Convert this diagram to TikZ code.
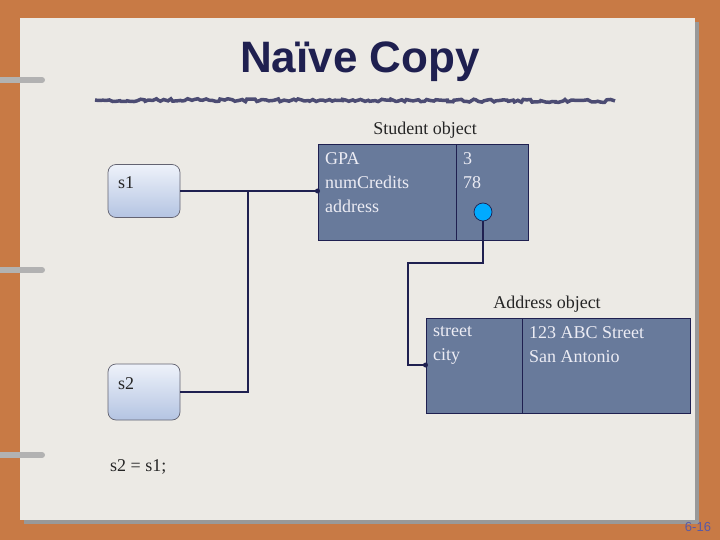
\documentclass[tikz,border=0pt]{standalone}
\usepackage{fontspec}
\setmainfont{Liberation Serif}
\newfontfamily\arialf{Liberation Sans}
\usetikzlibrary{decorations.pathmorphing}
\definecolor{wood}{HTML}{C87A45}
\definecolor{paper}{HTML}{ECEAE5}
\definecolor{navy}{HTML}{1F2050}
\definecolor{boxfill}{HTML}{687A9B}
\definecolor{boxtext}{HTML}{ECECF4}
\definecolor{ptr}{HTML}{00AAFF}
\definecolor{vtop}{HTML}{EEF2FA}
\definecolor{vbot}{HTML}{B4C4E2}
\tikzset{
  objbox/.style={draw=navy, fill=boxfill, line width=1pt},
  varbox/.style={draw=gray!70!navy, rounded corners=8pt, top color=vtop, bottom color=vbot, line width=0.7pt},
  conn/.style={draw=navy, line width=2.4pt},
  btxt/.style={text=boxtext, font=\fontsize{18}{24}\selectfont, align=left, anchor=north west, inner sep=0pt},
  lbl/.style={text=black!85, font=\fontsize{18}{20}\selectfont, inner sep=0pt},
  ring/.style={line width=6pt, gray!60, line cap=round}
}
\begin{document}
\begin{tikzpicture}[x=1pt,y=-1pt]
\useasboundingbox (0,0) rectangle (720,540);
\fill[wood] (0,0) rectangle (720,540);
\fill[black!40] (24,22) rectangle (699,524);
\fill[paper] (20,18) rectangle (695,520);
% rings
\foreach \yy in {80,270,455}{\draw[ring] (0,\yy) -- (42,\yy);}
% title
\node[font=\arialf\bfseries\fontsize{44}{50}\selectfont, text=navy] (title) at (360,62) {Naïve Copy};
\draw[navy!80, line width=3.5pt, decorate, decoration={random steps, segment length=3pt, amplitude=1.5pt}] (95,100) -- (615,101);
% variable boxes
\node[varbox, minimum width=72pt, minimum height=53pt] (s1) at (144,191) {};
\node[lbl, anchor=north west] (s1t) at (118,176) {s1};
\node[varbox, minimum width=72pt, minimum height=56pt] (s2) at (144,392) {};
\node[lbl, anchor=north west] (s2t) at (118,377) {s2};
% student object
\node[lbl] (stl) at (425,130) {Student object};
\node[objbox, minimum width=210pt, minimum height=95pt] (stu) at (423,192.5) {};
\draw[navy, line width=1pt] (456,145) -- (456,240);
\node[btxt] (stf) at (325,152) {GPA\\numCredits\\address};
\node[btxt] (stv) at (463,152) {3\\78};
\node[circle, draw=navy, fill=ptr, minimum size=18pt, inner sep=0pt, line width=0.7pt] (dot) at (483,212) {};
% address object
\node[lbl] (adl) at (547,304) {Address object};
\node[objbox, minimum width=264pt, minimum height=95pt] (adr) at (558,365.5) {};
\draw[navy, line width=1pt] (522,318) -- (522,413);
\node[btxt] (adf) at (433,326) {street\\city};
\node[btxt] (adv) at (529,326) {123 ABC Street\\San Antonio};
% connectors
\coordinate (j1) at (248,191);
\coordinate (e1) at (stu.west |- j1);
\draw[conn] (s1.east) -- (j1) -- (e1);
\fill[navy] (e1) circle (2.5pt);
\draw[conn] (j1) -- (248,392) -- (s2.east);
\coordinate (e2) at (adr.west |- 0,365);
\draw[conn] (dot.south) -- (483,263) -- (408,263) -- (408,365) -- (e2);
\fill[navy] (e2) circle (2.5pt);
% statement
\node[lbl, anchor=west] (stmt) at (110,467) {s2 = s1;};
\node[font=\arialf\fontsize{13}{15}\selectfont, text=blue!30!gray] (pg) at (698,527) {6-16};
\end{tikzpicture}
\end{document}
